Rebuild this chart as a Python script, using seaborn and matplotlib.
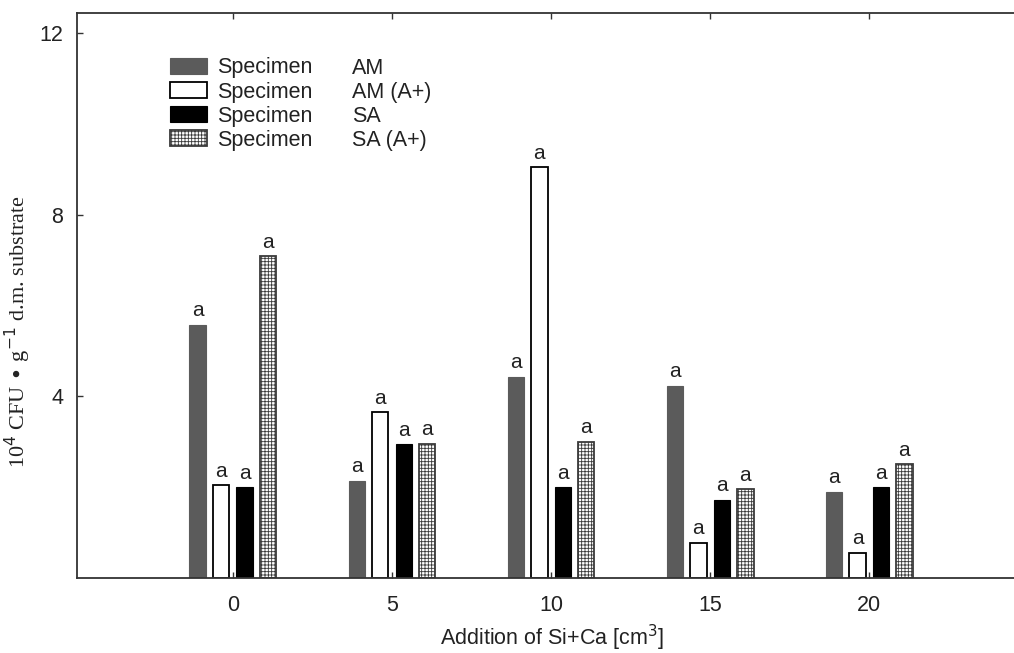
import matplotlib
matplotlib.use("Agg")
import matplotlib.pyplot as plt
import seaborn as sns
import pandas as pd

# ---- data ----
additions = ["0", "5", "10", "15", "20"]
series = ["AM", "AM (A+)", "SA", "SA (A+)"]
am = [5.57, 2.14, 4.43, 4.23, 1.90]
am_a = [2.04, 3.65, 9.04, 0.77, 0.56]
sa = [2.00, 2.94, 2.00, 1.72, 2.00]
sa_a = [7.08, 2.95, 3.00, 1.95, 2.50]
letters = ["a"] * 5
yticks = [4, 8, 12]

rows = []
for name, vals in zip(series, [am, am_a, sa, sa_a]):
    for x, v in zip(additions, vals):
        rows.append({"add": x, "series": name, "value": v})
df = pd.DataFrame(rows)

sns.set_theme(style="white")
plt.rcParams["font.family"] = ["Liberation Sans", "DejaVu Sans"]
plt.rcParams["hatch.linewidth"] = 0.6

FS = 15.5
fig = plt.figure(figsize=(10.14, 6.53), dpi=100)
W, H = 1014, 653
ax = fig.add_axes([77 / W, 1 - 578 / H, 1 - 77 / W, (578 - 13) / H])

palette = {"AM": "#5b5b5b", "AM (A+)": "white", "SA": "black", "SA (A+)": "white"}
sns.barplot(data=df, x="add", y="value", hue="series", order=additions,
            hue_order=series, palette=palette, width=0.59, gap=0.3,
            errorbar=None, ax=ax, legend=False, saturation=1)

styles = {
    "AM": dict(edgecolor="#5b5b5b", linewidth=0.8, hatch=None),
    "AM (A+)": dict(edgecolor="black", linewidth=1.3, hatch=None),
    "SA": dict(edgecolor="black", linewidth=0.8, hatch=None),
    "SA (A+)": dict(edgecolor="#3a3a3a", linewidth=1.3, hatch="+++++"),
}
for name, cont in zip(series, ax.containers):
    st = styles[name]
    for p, let in zip(cont.patches, letters):
        p.set_edgecolor(st["edgecolor"])
        p.set_linewidth(st["linewidth"])
        if st["hatch"]:
            p.set_hatch(st["hatch"])
        ax.text(p.get_x() + p.get_width() / 2, p.get_height() + 0.1, let,
                ha="center", va="bottom", fontsize=15, color="#222222")

ax.set_ylim(0, 12.44)
ax.set_xlim(-0.98, 4.91)
ax.set_yticks(yticks)
ax.set_yticklabels([str(t) for t in yticks], fontsize=FS, color="#222222")
ax.set_xticks(range(len(additions)))
ax.set_xticklabels(additions, fontsize=FS, color="#222222")
ax.tick_params(axis="both", direction="in", length=4, width=1, color="#333333",
               top=True, left=True, bottom=True, right=False)
ax.tick_params(axis="x", pad=12)
ax.tick_params(axis="y", pad=10)
for s in ["left", "bottom", "top"]:
    ax.spines[s].set_visible(True)
    ax.spines[s].set_color("#333333")
    ax.spines[s].set_linewidth(1.3)
ax.spines["right"].set_visible(False)
ax.set_xlabel("")
ax.set_ylabel("")

fig.text(552 / W, 1 - 638 / H, "Addition of Si+Ca [cm$^{3}$]", ha="center", va="center",
         fontsize=FS, color="#222222")
fig.text(18 / W, 1 - 332 / H, r"10$^{4}$ CFU $\bullet$ g$^{-1}$ d.m. substrate",
         rotation=90, ha="center", va="center", fontsize=16,
         family=["Liberation Serif"], color="#222222")

handles = [c.patches[0] for c in ax.containers]
leg = ax.legend(handles, ["Specimen"] * 4, loc="upper left",
                bbox_to_anchor=(170 / W, 1 - 57.5 / H), bbox_transform=fig.transFigure,
                frameon=False, fontsize=FS, handlelength=1.72, handleheight=0.72,
                handletextpad=0.45, labelspacing=0.14, borderaxespad=0, borderpad=0)
for t in leg.get_texts():
    t.set_color("#222222")

fig.canvas.draw()
inv = fig.transFigure.inverted()
for t, name in zip(leg.get_texts(), series):
    bb = t.get_window_extent()
    yc = (bb.y0 + bb.y1) / 2
    fx, fy = inv.transform((352, yc))
    fig.text(fx, fy, name, ha="left", va="center", fontsize=FS, color="#222222")

fig.savefig("out.png", dpi=100)
